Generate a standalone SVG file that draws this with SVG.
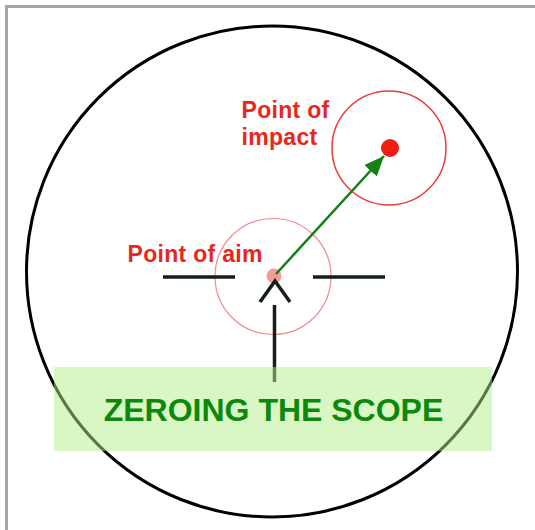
<svg xmlns="http://www.w3.org/2000/svg" width="535" height="530" viewBox="0 0 535 530">
<defs>
<style>
.lbl{font-family:"Liberation Sans",Arial,sans-serif;font-weight:bold;fill:#e8271c;font-size:23px;letter-spacing:0.3px}
.hair{stroke:#142014;stroke-width:3.5;fill:none;stroke-linecap:butt}
</style>
<marker id="ah" markerUnits="userSpaceOnUse" markerWidth="21" markerHeight="18" refX="20" refY="8.5" orient="auto" viewBox="0 0 21 18">
<path d="M0,0 L20,8.5 L0,17 Z" fill="#128212"/>
</marker>
</defs>
<rect width="535" height="530" fill="#ffffff"/>
<rect x="6.5" y="6.5" width="540" height="540" fill="none" stroke="#a6a6a6" stroke-width="3"/>
<g id="scope">
<circle cx="272" cy="271.5" r="245.5" fill="none" stroke="#000" stroke-width="3"/>
</g>
<g id="aim">
<circle cx="273" cy="276.5" r="58" fill="none" stroke="#f08a8a" stroke-width="1.2"/>
<circle cx="274" cy="276" r="7.5" fill="#f79a9a"/>
<text class="lbl" x="127.5" y="262">Point of aim</text>
</g>
<g id="impact">
<circle cx="389" cy="148" r="57" fill="none" stroke="#ee3a3a" stroke-width="1.5"/>
<circle cx="390" cy="148" r="9" fill="#f01d12"/>
<text class="lbl" x="241.5" y="118">Point of</text>
<text class="lbl" x="241.5" y="145">impact</text>
</g>
<g id="reticle">
<line class="hair" x1="163" y1="277" x2="235" y2="277"/>
<line class="hair" x1="313" y1="277" x2="385" y2="277"/>
</g>
<g id="connectors">
<line x1="276" y1="274" x2="384" y2="156" stroke="#128212" stroke-width="2.5" marker-end="url(#ah)"/>
<polyline class="hair" points="260,302 275,281 290,302"/>
<line class="hair" x1="274.5" y1="305" x2="274.5" y2="382"/>
</g>
<g id="title">
<rect x="54" y="367" width="438" height="84" fill="rgb(180,240,140)" fill-opacity="0.5"/>
<text x="273.5" y="421" text-anchor="middle" font-family="'Liberation Sans',Arial,sans-serif" font-weight="bold" font-size="32" fill="#0c880c">ZEROING THE SCOPE</text>
</g>
</svg>
